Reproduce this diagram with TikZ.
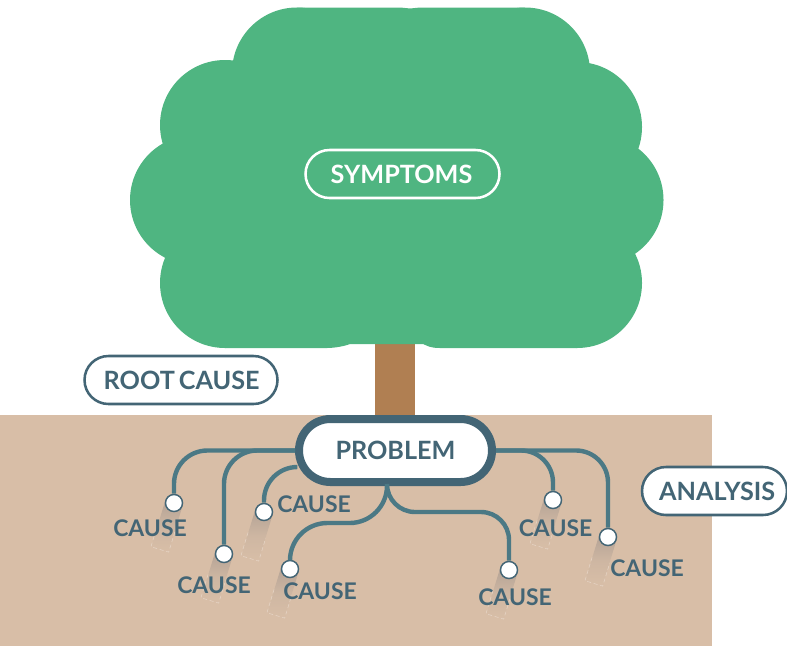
\documentclass[tikz,border=0pt]{standalone}
\usepackage{fontspec}
\setmainfont{Lato}
\usetikzlibrary{calc}
\definecolor{leaf}{HTML}{4FB581}
\definecolor{bark}{HTML}{B07F52}
\definecolor{soil}{HTML}{D8BEA7}
\definecolor{ink}{HTML}{436575}
\definecolor{branch}{HTML}{4B7985}
\definecolor{barshadow}{HTML}{B3A295}
\tikzset{
  x=0.75pt, y=-0.75pt,
  pill/.style={rectangle, line width=1.9pt, draw=ink, fill=white, text=ink, inner sep=0pt,
    minimum width=#1*0.75pt, minimum height=36pt, rounded corners=18pt,
    font=\fontsize{18.9}{22}\bfseries},
  causelabel/.style={inner sep=0pt, text=ink, font=\fontsize{17.2}{20}\bfseries},
  rootend/.style={circle, draw=ink, line width=1.1pt, fill=white, minimum size=12.8pt, inner sep=0pt},
  rootline/.style={draw=branch, line width=3.3pt},
  barshade/.style={rectangle, anchor=north, rotate=-17, inner sep=0pt,
    minimum width=13.5pt, minimum height=36pt, top color=barshadow, bottom color=soil,
    middle color=soil!72!barshadow},
  barline/.style={draw=soil!65!white, line width=0.4pt, densely dashed},
}
\newcommand{\rootbar}[2]{%
  \node[barshade] (#1) at (#2) {};
  \draw[barline] ($(#1.north west)!.5!(#1.south west)$) -- (#1.south west)
    -- (#1.south east) -- ($(#1.north east)!.5!(#1.south east)$);
}
\begin{document}
\begin{tikzpicture}
\useasboundingbox (0,0) rectangle (787,646);

% ground and trunk
\fill[soil] (0,414.5) rectangle (712,646);
\fill[bark] (375,340) rectangle (415,416);

% tree crown built from overlapping discs
\fill[leaf] (297,72.5) circle[radius=48.75pt] (525,72.5) circle[radius=48.75pt]
  (225,125) circle[radius=48.75pt] (577,127) circle[radius=48.75pt]
  (195,200) circle[radius=48.75pt] (598.5,200) circle[radius=48.75pt]
  (225,283) circle[radius=48.75pt] (577,283) circle[radius=48.75pt];
\fill[leaf] (297,7.5) -- (400,7.5) -- (410,8.5) -- (420,7.5) -- (525,7.5) -- (577,127)
  -- (598,200) -- (577,283) -- (577,348) -- (440,348) .. controls (430,348) and (428,346) .. (423,344)
  -- (350,344) .. controls (345,346) and (335,348) .. (327,348) -- (225,348) -- (225,283)
  -- (195,200) -- (225,125) -- cycle;

% shadows under the root tips
\coordinate (t1) at (174,503);
\coordinate (t2) at (224,554);
\coordinate (t3) at (264,512);
\coordinate (t4) at (290,569);
\coordinate (t5) at (509,570);
\coordinate (t6) at (553,500);
\coordinate (t7) at (608,537);
\rootbar{b1}{t1}
\rootbar{b2}{t2}
\rootbar{b3}{t3}
\rootbar{b4}{t4}
\rootbar{b5}{t5}
\rootbar{b6}{t6}
\rootbar{b7}{t7}

% main nodes
\node[pill=194, draw=white, fill=none, text=white] (symptoms) at (402.5,174) {\hspace{-1.5pt}\raisebox{-1.4pt}{SYMPTOMS}};
\node[pill=193] (rootcause) at (181,380) {\hspace{1pt}\raisebox{-3pt}{ROOT\hspace{0.16em}CAUSE}};
\node[pill=145] (analysis) at (714.5,491) {\hspace{4pt}ANALYSIS};
\node[pill=193, line width=6pt, minimum height=47.25pt, rounded corners=23.6pt] (problem) at (395.5,450.5) {PROBLEM};

% root tips
\node[rootend] (c1) at (t1) {};
\node[rootend] (c2) at (t2) {};
\node[rootend] (c3) at (t3) {};
\node[rootend] (c4) at (t4) {};
\node[rootend] (c5) at (t5) {};
\node[rootend] (c6) at (t6) {};
\node[rootend] (c7) at (t7) {};

% roots running from the problem to each tip
\coordinate (p3) at (297,467);
\coordinate (pb) at (387,484);
\draw[rootline, rounded corners=25pt] (problem.west) -| (c1);
\draw[rootline, rounded corners=25pt] (problem.west) -| (c2);
\draw[rootline, rounded corners=25pt] (p3) -| (c3);
\draw[rootline, rounded corners=28pt] (pb) -- (387,523) -| (c4);
\draw[rootline, rounded corners=21pt] (pb) -- (387,512) -| (c5);
\draw[rootline, rounded corners=24pt] (problem.east) -| (c6);
\draw[rootline, rounded corners=24pt] (problem.east) -| (c7);

% labels
\node[causelabel] (l1) at (150,528) {CAUSE};
\node[causelabel] (l2) at (214,585) {CAUSE};
\node[causelabel] (l3) at (314,504) {CAUSE};
\node[causelabel] (l4) at (320,591.5) {CAUSE};
\node[causelabel] (l5) at (515,597) {CAUSE};
\node[causelabel] (l6) at (555.5,528) {CAUSE};
\node[causelabel] (l7) at (647,568) {CAUSE};
\end{tikzpicture}
\end{document}
